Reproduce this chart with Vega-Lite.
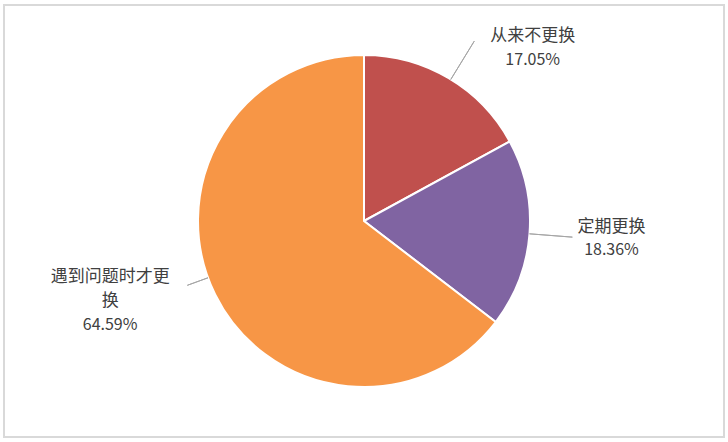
{
  "$schema": "https://vega.github.io/schema/vega-lite/v6.json",
  "description": "Pie chart of how often something is replaced.",
  "width": 728,
  "height": 442,
  "autosize": {"type": "fit", "contains": "padding"},
  "padding": {"left": 3, "top": 4, "right": 3, "bottom": 4},
  "background": "white",
  "data": {
    "values": [
      {"name": "从来不更换", "label": "从来不更换", "share": 0.1705},
      {"name": "定期更换", "label": "定期更换", "share": 0.1836},
      {"name": "遇到问题时才更换", "label": "遇到问题时才更\n换", "share": 0.6459}
    ]
  },
  "layer": [
    {
      "mark": {"type": "rect", "fill": "transparent", "stroke": "#D9D9D9", "strokeWidth": 2},
      "encoding": {}
    },
    {
      "mark": {"type": "arc", "outerRadius": 166, "stroke": "white", "strokeWidth": 2},
      "encoding": {
        "theta": {"field": "share", "type": "quantitative", "stack": true, "scale": {"domain": [0, 1]}},
        "order": {"field": "share", "type": "quantitative", "sort": "ascending"},
        "color": {
          "field": "name",
          "type": "nominal",
          "scale": {
            "domain": ["从来不更换", "定期更换", "遇到问题时才更换"],
            "range": ["#C0504D", "#8064A2", "#F79646"]
          },
          "legend": null
        }
      }
    },
    {
      "transform": [
        {"stack": "share", "groupby": [], "sort": [{"field": "share", "order": "ascending"}], "as": ["s0", "s1"]},
        {"filter": "datum.name === '从来不更换'"}
      ],
      "mark": {"type": "arc", "innerRadius": 166, "outerRadius": 211, "fill": "transparent", "stroke": "#A6A6A6", "strokeWidth": 1, "thetaOffset": 0.55, "theta2Offset": 0.55},
      "encoding": {
        "theta": {"field": "s0", "type": "quantitative", "scale": {"domain": [0, 1]}},
        "theta2": {"field": "s0"}
      }
    },
    {
      "transform": [
        {"stack": "share", "groupby": [], "sort": [{"field": "share", "order": "ascending"}], "as": ["s0", "s1"]},
        {"filter": "datum.name === '定期更换'"}
      ],
      "mark": {"type": "arc", "innerRadius": 166, "outerRadius": 209, "fill": "transparent", "stroke": "#A6A6A6", "strokeWidth": 1, "thetaOffset": 0.5768, "theta2Offset": 0.5768},
      "encoding": {
        "theta": {"field": "s0", "type": "quantitative", "scale": {"domain": [0, 1]}},
        "theta2": {"field": "s0"}
      }
    },
    {
      "transform": [
        {"stack": "share", "groupby": [], "sort": [{"field": "share", "order": "ascending"}], "as": ["s0", "s1"]},
        {"filter": "datum.name === '遇到问题时才更换'"}
      ],
      "mark": {"type": "arc", "innerRadius": 166, "outerRadius": 188, "fill": "transparent", "stroke": "#A6A6A6", "strokeWidth": 1, "thetaOffset": 2.1384, "theta2Offset": 2.1384},
      "encoding": {
        "theta": {"field": "s0", "type": "quantitative", "scale": {"domain": [0, 1]}},
        "theta2": {"field": "s0"}
      }
    },
    {
      "mark": {"type": "text", "radius": 166, "dx": 84, "dy": -42, "fontSize": 17, "font": "Noto Sans CJK SC", "color": "#404040", "baseline": "middle"},
      "encoding": {
        "theta": {"field": "share", "type": "quantitative", "stack": true, "scale": {"domain": [0, 1]}},
        "order": {"field": "share", "type": "quantitative", "sort": "ascending"},
        "detail": {"field": "name", "type": "nominal"},
        "text": {"condition": {"test": "datum.name === '从来不更换'", "field": "label"}, "value": ""}
      }
    },
    {
      "mark": {"type": "text", "radius": 166, "dx": 84, "dy": -18, "fontSize": 16, "font": "Noto Sans CJK SC", "color": "#404040", "baseline": "middle"},
      "encoding": {
        "theta": {"field": "share", "type": "quantitative", "stack": true, "scale": {"domain": [0, 1]}},
        "order": {"field": "share", "type": "quantitative", "sort": "ascending"},
        "detail": {"field": "name", "type": "nominal"},
        "text": {"condition": {"test": "datum.name === '从来不更换'", "field": "share", "type": "quantitative", "format": ".2%"}, "value": ""}
      }
    },
    {
      "mark": {"type": "text", "radius": 166, "dx": 82, "dy": -7, "fontSize": 17, "font": "Noto Sans CJK SC", "color": "#404040", "baseline": "middle"},
      "encoding": {
        "theta": {"field": "share", "type": "quantitative", "stack": true, "scale": {"domain": [0, 1]}},
        "order": {"field": "share", "type": "quantitative", "sort": "ascending"},
        "detail": {"field": "name", "type": "nominal"},
        "text": {"condition": {"test": "datum.name === '定期更换'", "field": "label"}, "value": ""}
      }
    },
    {
      "mark": {"type": "text", "radius": 166, "dx": 82, "dy": 16, "fontSize": 16, "font": "Noto Sans CJK SC", "color": "#404040", "baseline": "middle"},
      "encoding": {
        "theta": {"field": "share", "type": "quantitative", "stack": true, "scale": {"domain": [0, 1]}},
        "order": {"field": "share", "type": "quantitative", "sort": "ascending"},
        "detail": {"field": "name", "type": "nominal"},
        "text": {"condition": {"test": "datum.name === '定期更换'", "field": "share", "type": "quantitative", "format": ".2%"}, "value": ""}
      }
    },
    {
      "mark": {"type": "text", "radius": 166, "dx": -105, "dy": -17, "fontSize": 17, "font": "Noto Sans CJK SC", "color": "#404040", "baseline": "middle", "lineBreak": "\n", "lineHeight": 23.5},
      "encoding": {
        "theta": {"field": "share", "type": "quantitative", "stack": true, "scale": {"domain": [0, 1]}},
        "order": {"field": "share", "type": "quantitative", "sort": "ascending"},
        "detail": {"field": "name", "type": "nominal"},
        "text": {"condition": {"test": "datum.name === '遇到问题时才更换'", "field": "label"}, "value": ""}
      }
    },
    {
      "mark": {"type": "text", "radius": 166, "dx": -105, "dy": 30.5, "fontSize": 16, "font": "Noto Sans CJK SC", "color": "#404040", "baseline": "middle"},
      "encoding": {
        "theta": {"field": "share", "type": "quantitative", "stack": true, "scale": {"domain": [0, 1]}},
        "order": {"field": "share", "type": "quantitative", "sort": "ascending"},
        "detail": {"field": "name", "type": "nominal"},
        "text": {"condition": {"test": "datum.name === '遇到问题时才更换'", "field": "share", "type": "quantitative", "format": ".2%"}, "value": ""}
      }
    }
  ],
  "config": {
    "view": {"stroke": null}
  }
}
